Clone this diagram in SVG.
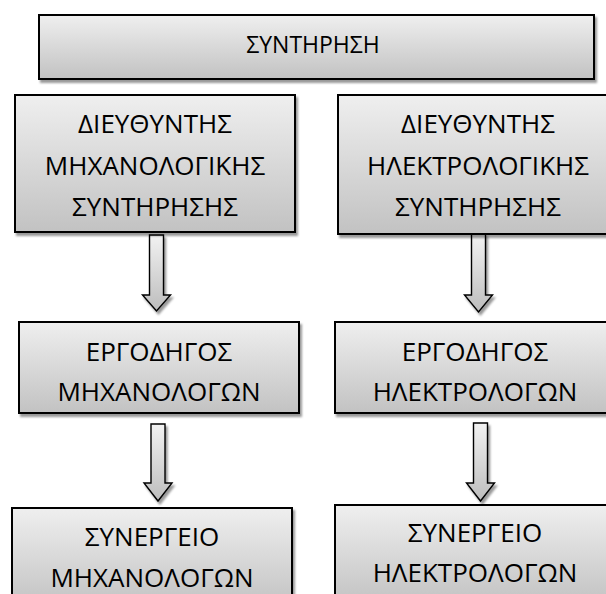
<svg xmlns="http://www.w3.org/2000/svg" width="606" height="594" viewBox="0 0 606 594">
<defs>
<linearGradient id="g" x1="0" y1="0" x2="0" y2="1">
<stop offset="0" stop-color="#efefef"/>
<stop offset="1" stop-color="#c2c2c2"/>
</linearGradient>
<linearGradient id="ga" x1="0" y1="0" x2="0" y2="1">
<stop offset="0" stop-color="#f2f2f2"/>
<stop offset="1" stop-color="#bdbdbd"/>
</linearGradient>
<filter id="sh" x="-10%" y="-10%" width="130%" height="130%">
<feDropShadow dx="2" dy="3" stdDeviation="0.8" flood-color="#000" flood-opacity="0.4"/>
</filter>
</defs>
<style>
.box{fill:url(#g);stroke:#000;stroke-width:2;filter:url(#sh)}
.arr{fill:url(#ga);stroke:#000;stroke-width:1.4;stroke-linejoin:miter;filter:url(#sh)}
text{font-family:"Open Sans","Noto Sans","DejaVu Sans",sans-serif;font-size:26px;fill:#000;text-anchor:middle}
.t0{font-size:23px}
</style>
<rect width="606" height="594" fill="#fff"/>
<g id="connectors">
<path class="arr" d="M149.5,235 H163.5 V295 H170.5 L156.5,311 L142.5,295 H149.5 Z"/>
<path class="arr" d="M471.5,234 H485.5 V295 H492.5 L478.5,312 L464.5,295 H471.5 Z"/>
<path class="arr" d="M151,424 H165 V483 H172 L158,501 L144,483 H151 Z"/>
<path class="arr" d="M473.5,423 H487.5 V483 H494.5 L480.5,501 L466.5,483 H473.5 Z"/>
</g>
<g id="n_top">
<rect class="box" x="39" y="15" width="555" height="64"/>
<text class="t0" x="313" y="53">ΣΥΝΤΗΡΗΣΗ</text>
</g>
<g id="n_dir_mech">
<rect class="box" x="15" y="95" width="280" height="137"/>
<text x="155" y="133">ΔΙΕΥΘΥΝΤΗΣ</text>
<text x="155" y="174.5">ΜΗΧΑΝΟΛΟΓΙΚΗΣ</text>
<text x="155" y="216">ΣΥΝΤΗΡΗΣΗΣ</text>
</g>
<g id="n_dir_elec">
<rect class="box" x="338" y="95" width="280" height="139"/>
<text x="478" y="133">ΔΙΕΥΘΥΝΤΗΣ</text>
<text x="478" y="174.5">ΗΛΕΚΤΡΟΛΟΓΙΚΗΣ</text>
<text x="478" y="216">ΣΥΝΤΗΡΗΣΗΣ</text>
</g>
<g id="n_erg_mech">
<rect class="box" x="19" y="322" width="280" height="91"/>
<text x="159" y="361">ΕΡΓΟΔΗΓΟΣ</text>
<text x="159" y="401">ΜΗΧΑΝΟΛΟΓΩΝ</text>
</g>
<g id="n_erg_elec">
<rect class="box" x="335" y="322" width="280" height="91"/>
<text x="475" y="361">ΕΡΓΟΔΗΓΟΣ</text>
<text x="475" y="401">ΗΛΕΚΤΡΟΛΟΓΩΝ</text>
</g>
<g id="n_syn_mech">
<rect class="box" x="12" y="508" width="280" height="100"/>
<text x="152" y="546">ΣΥΝΕΡΓΕΙΟ</text>
<text x="152" y="587">ΜΗΧΑΝΟΛΟΓΩΝ</text>
</g>
<g id="n_syn_elec">
<rect class="box" x="335" y="505" width="280" height="100"/>
<text x="475" y="542">ΣΥΝΕΡΓΕΙΟ</text>
<text x="475" y="582">ΗΛΕΚΤΡΟΛΟΓΩΝ</text>
</g>
</svg>
